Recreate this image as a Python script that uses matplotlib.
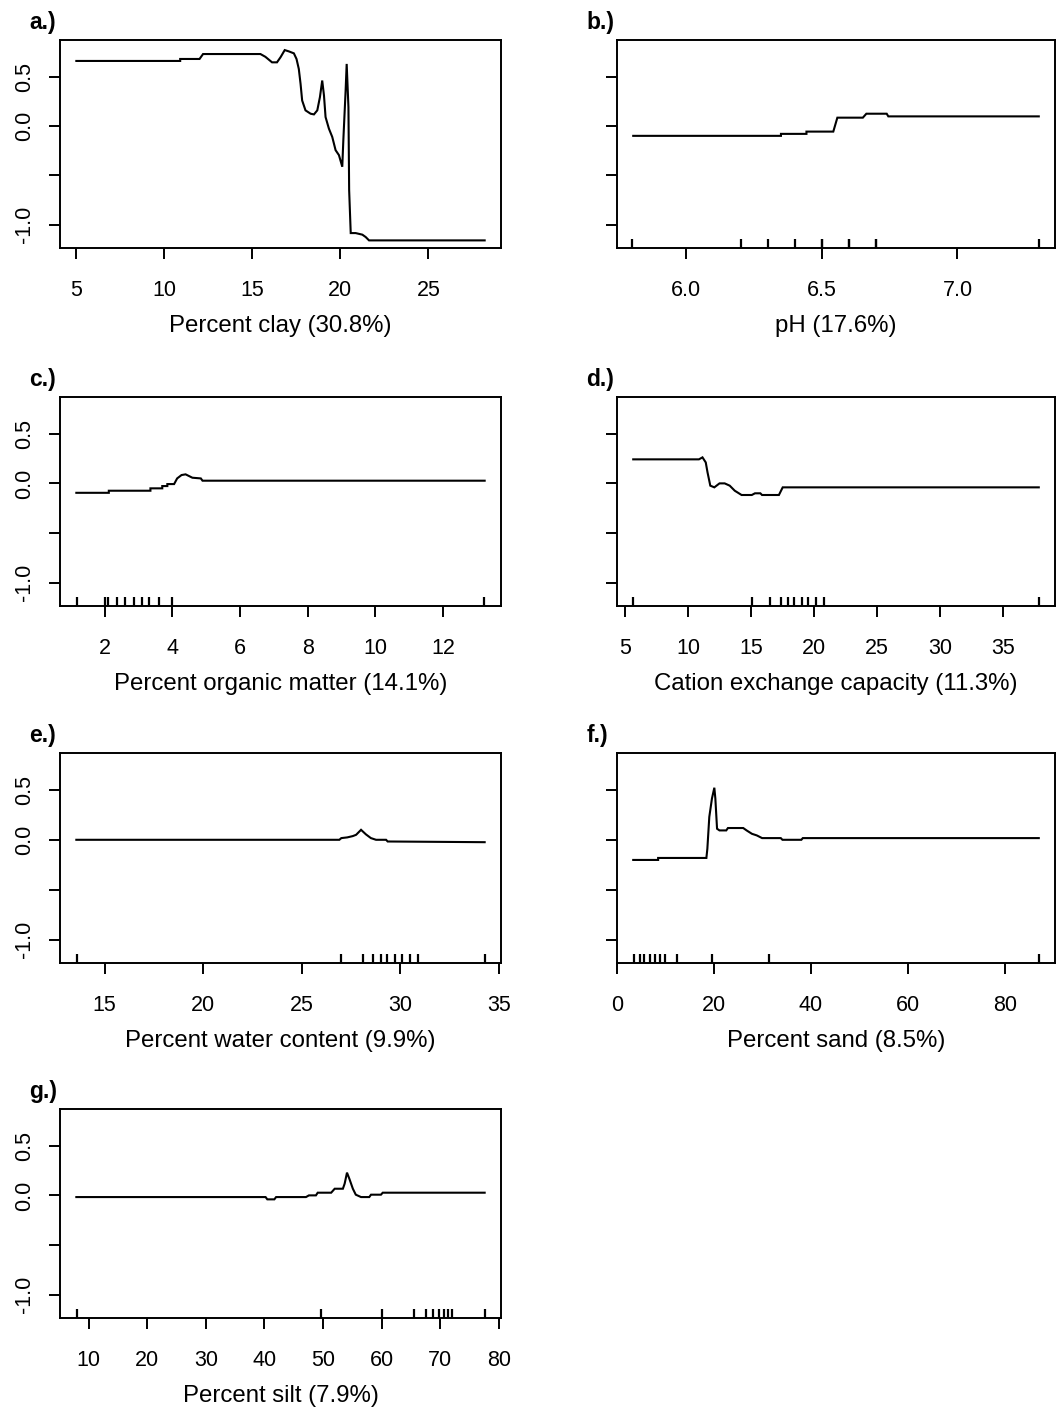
import matplotlib
matplotlib.use("Agg")
import matplotlib.pyplot as plt
import matplotlib.transforms as mtransforms

plt.rcParams['font.family'] = ['Liberation Sans', 'DejaVu Sans']

# ---- data (partial dependence curves + decile rugs) ----
clay_x = [5.0, 10.9, 10.9, 12.0, 12.2, 15.46, 15.74, 16.12, 16.4, 16.6, 16.84, 17.07, 17.36,
          17.51, 17.64, 17.74, 17.83, 18.02, 18.31, 18.5, 18.69, 18.84, 18.97, 19.07, 19.16,
          19.35, 19.54, 19.73, 19.92, 20.11, 20.17, 20.3, 20.36, 20.46, 20.5, 20.59, 20.87,
          21.25, 21.44, 21.63, 28.2]
clay_y = [0.658, 0.658, 0.678, 0.678, 0.728, 0.728, 0.70, 0.644, 0.644, 0.695, 0.768, 0.755,
          0.735, 0.678, 0.577, 0.426, 0.258, 0.158, 0.124, 0.117, 0.158, 0.292, 0.46, 0.309,
          0.09, -0.027, -0.111, -0.245, -0.295, -0.413, -0.144, 0.359, 0.628, 0.19, -0.648,
          -1.084, -1.084, -1.10, -1.124, -1.158, -1.158]
clay_rug = []

ph_x = [5.804, 6.349, 6.349, 6.443, 6.443, 6.542, 6.557, 6.651, 6.664, 6.739, 6.745, 7.30]
ph_y = [-0.10, -0.10, -0.08, -0.08, -0.057, -0.057, 0.084, 0.084, 0.124, 0.124, 0.097, 0.097]
ph_rug = [5.8, 6.2, 6.3, 6.4, 6.5, 6.5, 6.6, 6.6, 6.7, 6.7, 7.3]

om_x = [1.16, 2.12, 2.12, 3.35, 3.35, 3.70, 3.70, 3.85, 3.85, 4.05, 4.14, 4.27, 4.39, 4.49,
        4.59, 4.84, 4.89, 13.23]
om_y = [-0.095, -0.095, -0.074, -0.074, -0.05, -0.05, -0.027, -0.027, -0.007, -0.007, 0.05,
        0.084, 0.091, 0.074, 0.057, 0.05, 0.027, 0.027]
om_rug = [1.18, 2.0, 2.1, 2.35, 2.6, 2.85, 3.1, 3.3, 3.6, 4.0, 13.2]

cec_x = [5.65, 10.86, 11.14, 11.4, 11.54, 11.76, 12.08, 12.49, 12.9, 13.3, 13.7, 14.24, 15.05,
         15.3, 15.73, 15.86, 17.2, 17.5, 37.8]
cec_y = [0.242, 0.242, 0.262, 0.211, 0.111, -0.023, -0.04, 0.0, 0.0, -0.023, -0.074, -0.117,
         -0.117, -0.10, -0.10, -0.117, -0.117, -0.04, -0.04]
cec_rug = [5.65, 15.05, 16.5, 17.4, 17.9, 18.4, 19.0, 19.5, 20.1, 20.8, 37.8]

water_x = [13.56, 26.9, 27.0, 27.3, 27.58, 27.75, 28.0, 28.25, 28.5, 28.76, 29.27, 29.35, 34.27]
water_y = [0.0, 0.0, 0.017, 0.024, 0.037, 0.05, 0.10, 0.054, 0.017, 0.0, 0.0, -0.017, -0.024]
water_rug = [13.6, 27.0, 28.1, 28.6, 29.0, 29.3, 29.7, 30.1, 30.5, 30.9, 34.3]

sand_x = [3.3, 8.44, 8.44, 18.4, 18.6, 19.0, 19.55, 20.04, 20.25, 20.6, 21.1, 22.5, 22.85, 26.0,
          26.7, 27.8, 28.8, 29.9, 33.75, 34.1, 38.0, 38.3, 87.0]
sand_y = [-0.202, -0.202, -0.182, -0.182, -0.09, 0.229, 0.414, 0.522, 0.414, 0.111, 0.094,
          0.094, 0.118, 0.118, 0.094, 0.06, 0.044, 0.017, 0.017, 0.0, 0.0, 0.017, 0.017]
sand_rug = [3.4, 4.6, 5.6, 6.7, 7.7, 8.9, 9.9, 12.4, 19.6, 31.3, 87.0]

silt_x = [7.9, 40.2, 40.5, 41.7, 42.0, 47.1, 47.6, 48.8, 49.1, 51.4, 52.0, 53.4, 53.7, 54.1,
          54.5, 55.1, 55.6, 56.5, 57.9, 58.2, 59.9, 60.2, 77.6]
silt_y = [-0.017, -0.017, -0.04, -0.04, -0.017, -0.017, 0.0, 0.0, 0.027, 0.027, 0.067, 0.067,
          0.118, 0.229, 0.168, 0.067, 0.007, -0.017, -0.017, 0.007, 0.007, 0.027, 0.027]
silt_rug = [8.0, 49.7, 60.0, 65.6, 67.6, 68.8, 69.8, 70.6, 71.3, 72.1, 77.6]

panel_tags = ["a.)", "b.)", "c.)", "d.)", "e.)", "f.)", "g.)"]
x_labels = ["Percent clay (30.8%)", "pH (17.6%)", "Percent organic matter (14.1%)",
            "Cation exchange capacity (11.3%)", "Percent water content (9.9%)",
            "Percent sand (8.5%)", "Percent silt (7.9%)"]
x_ticks = [[5, 10, 15, 20, 25], [6.0, 6.5, 7.0], [2, 4, 6, 8, 10, 12],
           [5, 10, 15, 20, 25, 30, 35], [15, 20, 25, 30, 35], [0, 20, 40, 60, 80],
           [10, 20, 30, 40, 50, 60, 70, 80]]
x_ticklabels = [["5", "10", "15", "20", "25"], ["6.0", "6.5", "7.0"],
                ["2", "4", "6", "8", "10", "12"],
                ["5", "10", "15", "20", "25", "30", "35"],
                ["15", "20", "25", "30", "35"], ["0", "20", "40", "60", "80"],
                ["10", "20", "30", "40", "50", "60", "70", "80"]]
y_ticks = [0.5, 0.0, -0.5, -1.0]
y_ticklabels = ["0.5", "0.0", "", "-1.0"]

curves = [(clay_x, clay_y, clay_rug), (ph_x, ph_y, ph_rug), (om_x, om_y, om_rug),
          (cec_x, cec_y, cec_rug), (water_x, water_y, water_rug),
          (sand_x, sand_y, sand_rug), (silt_x, silt_y, silt_rug)]

W, H = 1056, 1408
fig = plt.figure(figsize=(W / 100, H / 100), dpi=100)

# axes boxes in pixels: (left, top, right, bottom)
col_lr = [(60, 501), (617, 1055)]
row_tb = [(40, 248), (397, 606), (753, 963), (1109, 1318)]

for i, (xs, ys, rug) in enumerate(curves):
    col = i % 2
    row = i // 2
    l, r = col_lr[col]
    t, b = row_tb[row]
    ax = fig.add_axes([l / W, 1 - b / H, (r - l) / W, (b - t) / H])

    ax.plot(xs, ys, color="black", lw=1.5, solid_joinstyle="miter")

    # R style limits: data range + 4%
    lo, hi = min(xs), max(xs)
    pad = 0.04 * (hi - lo)
    ax.set_xlim(lo - pad, hi + pad)
    ax.set_ylim(-1.235, 0.87)

    # decile rug drawn inward from the bottom
    if rug:
        trans = mtransforms.blended_transform_factory(ax.transData, ax.transAxes)
        ax.vlines(rug, 0, 0.045, transform=trans, color="black", lw=1.6)

    ax.set_xticks(x_ticks[i])
    ax.set_xticklabels(x_ticklabels[i])
    ax.set_yticks(y_ticks)
    if col == 0:
        ax.set_yticklabels(y_ticklabels, rotation=90, va="center")
    else:
        ax.set_yticklabels([])

    ax.tick_params(axis="x", length=8, width=1.4, pad=15, labelsize=15.5, colors="black")
    ax.tick_params(axis="y", length=8, width=1.4, pad=10, labelsize=15.5, colors="black")
    for s in ax.spines.values():
        s.set_linewidth(1.4)

    ax.set_xlabel(x_labels[i], fontsize=17.3, labelpad=10)
    ax.text(-0.07, 1.085, panel_tags[i], transform=ax.transAxes, fontsize=16.5,
            fontweight="bold", ha="left", va="center")

fig.savefig("out.png", dpi=100)
